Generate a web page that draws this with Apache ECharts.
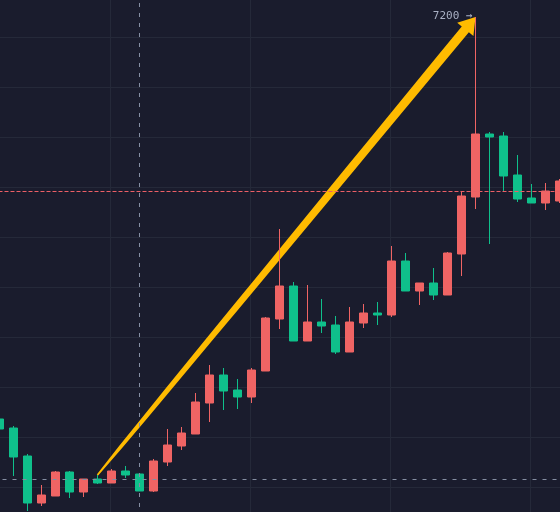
<!DOCTYPE html>
<html>
<head>
<meta charset="utf-8">
<script src="https://cdn.jsdelivr.net/npm/echarts@6/dist/echarts.min.js"></script>
<style>
  html, body { margin: 0; padding: 0; background: #1a1c2d; overflow: hidden; }
  /* the chart is panned: candles run off both edges of the window */
  #chart { position: absolute; left: -20px; top: -40px; width: 600px; height: 600px; }
</style>
</head>
<body>
<div id="chart"></div>
<script>
const days = ['1', '2', '3', '4', '5', '6', '7', '8', '9', '10', '11', '12', '13', '14',
  '15', '16', '17', '18', '19', '20', '21', '22', '23', '24', '25', '26', '27', '28',
  '29', '30', '31', '32', '33', '34', '35', '36', '37', '38', '39', '40', '41']
const opens = [5592, 5556, 5444, 5256, 5284, 5380, 5300, 5352, 5336, 5384, 5372, 5304, 5420, 5484,
  5532, 5656, 5768, 5708, 5680, 5784, 5992, 6124, 5904, 5980, 5968, 5860, 5976, 6016,
  6008, 6224, 6104, 6136, 6088, 6252, 6480, 6732, 6724, 6568, 6476, 6456, 6464]
const closes = [5552, 5440, 5256, 5288, 5380, 5300, 5352, 5336, 5384, 5368, 5304, 5424, 5488, 5536,
  5660, 5768, 5704, 5680, 5788, 5996, 6124, 5904, 5980, 5964, 5860, 5980, 6016, 6008,
  6224, 6104, 6136, 6088, 6256, 6484, 6732, 6720, 6564, 6472, 6456, 6504, 6544]
const lows = [5544, 5364, 5224, 5244, 5284, 5276, 5280, 5332, 5336, 5356, 5304, 5300, 5404, 5468,
  5532, 5580, 5628, 5632, 5656, 5784, 5952, 5904, 5904, 5936, 5852, 5860, 5956, 5968,
  6000, 6104, 6048, 6068, 6088, 6164, 6432, 6292, 6504, 6460, 6456, 6428, 6456]
const highs = [5600, 5564, 5452, 5328, 5384, 5384, 5352, 5368, 5392, 5404, 5376, 5432, 5552, 5560,
  5696, 5808, 5796, 5752, 5796, 6000, 6352, 6140, 6128, 6072, 6004, 6040, 6052, 6060,
  6284, 6256, 6136, 6196, 6260, 6504, 7200, 6740, 6740, 6648, 6532, 6536, 6552]

// annotation: arrow from the high of day 8 to the high of day 35
const arrowFrom = [7, 5368]
const arrowTo = [34, 7200]
const lastPrice = 6504
const crossDay = 10
const crossPrice = 5352

const candles = opens.map((o, i) => [o, closes[i], lows[i], highs[i]])

const chart = echarts.init(document.getElementById('chart'))

const gridLine = { lineStyle: { color: '#252939', width: 1 } }
const bare = {
  axisLine: { show: false },
  axisTick: { show: false },
  axisLabel: { show: false }
}

const option = {
  backgroundColor: '#1a1c2d',
  animation: false,
  grid: [
    { left: 12.5, right: 13.5, top: 7, bottom: 43 },
    // background lines only: verticals, then horizontals
    { left: 130, right: 50, top: 0, bottom: 0 },
    { left: 0, right: 0, top: 77, bottom: 73 }
  ],
  xAxis: [
    { type: 'category', data: days, gridIndex: 0, boundaryGap: true, show: false },
    { type: 'value', gridIndex: 1, min: 0, max: 420, interval: 140, ...bare, splitLine: gridLine },
    { type: 'value', gridIndex: 2, min: 0, max: 1, ...bare, splitLine: { show: false } }
  ],
  yAxis: [
    { type: 'value', gridIndex: 0, min: 5200, max: 7400, show: false },
    { type: 'value', gridIndex: 1, min: 0, max: 1, ...bare, splitLine: { show: false } },
    { type: 'value', gridIndex: 2, min: 0, max: 450, interval: 50, ...bare, splitLine: gridLine }
  ],
  series: [
    {
      type: 'custom',
      xAxisIndex: 0,
      yAxisIndex: 0,
      z: 1,
      silent: true,
      encode: { x: [0, 2], y: [1, 3] },
      data: [[arrowFrom[0], arrowFrom[1], arrowTo[0], arrowTo[1]]],
      renderItem (params, api) {
        const p0 = api.coord([api.value(0), api.value(1)])
        const p1 = api.coord([api.value(2), api.value(3)])
        const dx = p1[0] - p0[0]
        const dy = p1[1] - p0[1]
        const len = Math.sqrt(dx * dx + dy * dy)
        const ux = dx / len
        const uy = dy / len
        const nx = -uy
        const ny = ux
        const headLen = 16
        const headHalf = 10.5
        const w0 = 0.9
        const w1 = 4.6
        const shaft = len - headLen
        const left = []
        const right = []
        for (let i = 0; i <= 16; i++) {
          const f = i / 16
          const w = w0 + (w1 - w0) * Math.sqrt(f)
          const cx = p0[0] + ux * shaft * f
          const cy = p0[1] + uy * shaft * f
          left.push([cx + nx * w, cy + ny * w])
          right.unshift([cx - nx * w, cy - ny * w])
        }
        const bx = p0[0] + ux * shaft
        const by = p0[1] + uy * shaft
        const points = left.concat([
          [bx + nx * headHalf, by + ny * headHalf],
          p1,
          [bx - nx * headHalf, by - ny * headHalf]
        ], right)
        return {
          type: 'group',
          children: [
            { type: 'polygon', shape: { points }, style: { fill: '#ffbb00' } },
            {
              type: 'text',
              x: p1[0] - 3,
              y: p1[1] - 1,
              style: {
                text: api.value(3) + ' →',
                fill: '#a9b0c4',
                font: '11px "DejaVu Sans Mono"',
                align: 'right',
                verticalAlign: 'middle'
              }
            }
          ]
        }
      }
    },
    {
      type: 'candlestick',
      xAxisIndex: 0,
      yAxisIndex: 0,
      z: 2,
      barWidth: 8,
      data: candles,
      itemStyle: {
        color: '#ef6464',
        color0: '#0fc08b',
        borderColor: '#ef6464',
        borderColor0: '#0fc08b',
        borderWidth: 1
      },
      markLine: {
        silent: true,
        symbol: 'none',
        animation: false,
        label: { show: false },
        emphasis: { disabled: true },
        data: [
          { xAxis: crossDay, lineStyle: { color: '#858ea2', type: [4, 6], width: 1, opacity: 1 } },
          { yAxis: crossPrice, lineStyle: { color: '#858ea2', type: [4, 6], width: 1, opacity: 1 } },
          { yAxis: lastPrice, lineStyle: { color: '#ec5f66', type: [4, 2], width: 1, opacity: 1 } }
        ]
      }
    }
  ]
}

option && chart.setOption(option)
</script>
</body>
</html>
